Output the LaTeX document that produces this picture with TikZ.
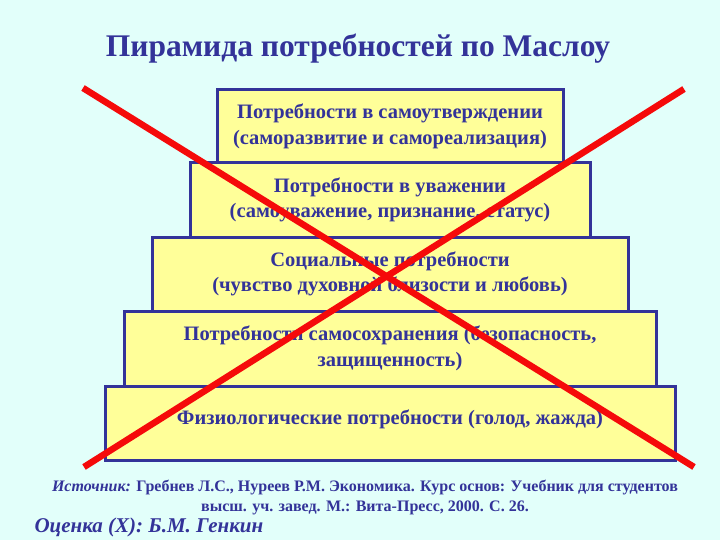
\documentclass[tikz,border=0pt]{standalone}
\usepackage{fontspec}
\setmainfont{Liberation Serif}
\usetikzlibrary{positioning}
\definecolor{bgcyan}{RGB}{226,255,250}
\definecolor{boxyellow}{RGB}{255,255,153}
\definecolor{textblue}{RGB}{51,51,153}
\definecolor{crossred}{RGB}{245,10,10}

\tikzset{
  needbox/.style={rectangle, draw=textblue, fill=boxyellow, line width=3pt,
    inner sep=0pt, outer sep=0pt, align=center,
    font=\bfseries\fontsize{20.5}{25.5}\selectfont},
}

\begin{document}
\begin{tikzpicture}[x=1pt, y=-1pt, every node/.style={text=textblue}]

\fill[bgcyan] (0,0) rectangle (720,540);
\useasboundingbox (0,0) rectangle (720,540);

% Title
\node[font=\bfseries\fontsize{31.5}{36}\selectfont] at (358,49) (title) {Пирамида потребностей по Маслоу};

% Pyramid levels, top to bottom
\node[needbox, minimum width=346pt, minimum height=73pt] at (390,126.5) (lvl1)
  {Потребности в самоутверждении\\(саморазвитие и самореализация)};
\node[needbox, minimum width=400pt, minimum height=74pt, below=0pt of lvl1] (lvl2)
  {Потребности в уважении\\(самоуважение, признание, статус)};
\node[needbox, minimum width=476pt, minimum height=74pt, below=0pt of lvl2] (lvl3)
  {Социальные потребности\\(чувство духовной близости и любовь)};
\node[needbox, minimum width=532pt, minimum height=75pt, below=0pt of lvl3] (lvl4)
  {Потребности самосохранения (безопасность,\\защищенность)};
\node[needbox, minimum width=570pt, minimum height=74pt, below=0pt of lvl4] (lvl5)
  {Физиологические потребности (голод, жажда)\\[-14pt]};

% Red cross over the pyramid
\coordinate (xtl) at (83,88);
\coordinate (xbr) at (694,467);
\coordinate (xtr) at (684,89);
\coordinate (xbl) at (84,467);
\draw[crossred, line width=6.5pt] (xtl) -- (xbr);
\draw[crossred, line width=6.5pt] (xtr) -- (xbl);

% Source
\node[align=center, font=\bfseries\fontsize{16}{20}\selectfont] at (365,497) (source)
  {\textit{Источник:} Гребнев Л.С., Нуреев Р.М. Экономика. Курс основ: Учебник для студентов\\
   высш. уч. завед. М.: Вита-Пресс, 2000. С. 26.};

% Assessment
\node[anchor=west, font=\bfseries\itshape\fontsize{21}{24}\selectfont] at (31,527) (mark)
  {Оценка (Х): Б.М. Генкин};

\end{tikzpicture}
\end{document}
